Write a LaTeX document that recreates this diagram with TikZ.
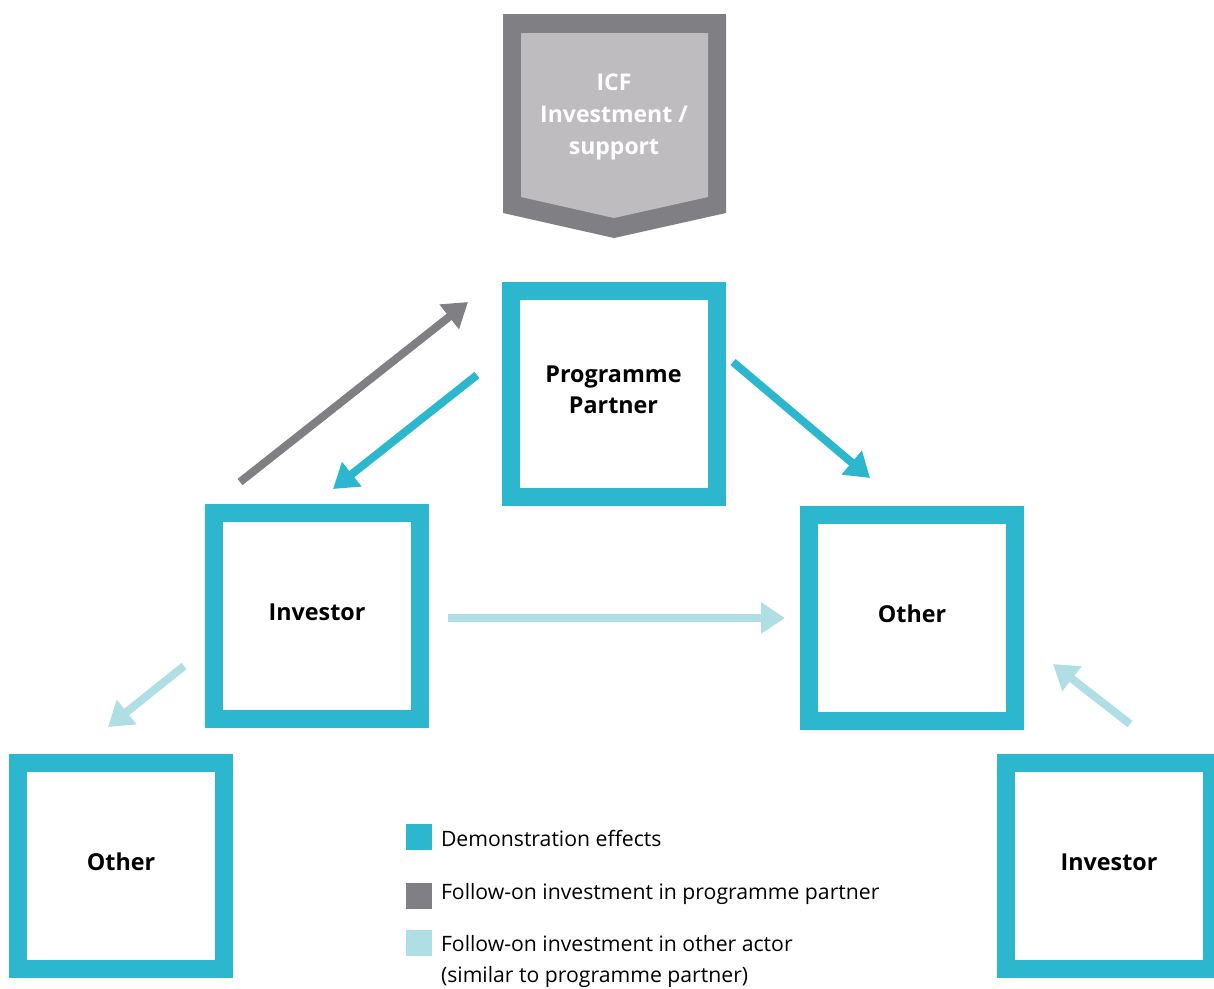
\documentclass[tikz,border=0pt]{standalone}
\usepackage{fontspec}
\setmainfont{Open Sans}
\usetikzlibrary{arrows.meta}
\definecolor{demo}{HTML}{2DB7CE}
\definecolor{pgray}{HTML}{808084}
\definecolor{other}{HTML}{B0DEE5}
\definecolor{icfin}{HTML}{BEBCBF}
\tikzset{box/.style={draw=demo, line width=18pt, minimum size=206pt,
  inner sep=0pt, align=center, text depth=8pt,
  font=\bfseries\fontsize{23.3}{31}\selectfont},
  key/.style={minimum size=26pt, inner sep=0pt},
  keytxt/.style={anchor=base west, inner sep=0pt, align=left,
  font=\fontsize{21.2}{31}\selectfont}}

\begin{document}
\begin{tikzpicture}[x=1pt, y=-1pt, line width=8pt,
  >={Triangle[width=30pt,length=24pt]}]
  \useasboundingbox (0,0) rectangle (1214,988);
  % ICF shield
  \fill[pgray] (503,14) -- (726,14) -- (726,213) -- (614,238) -- (503,213) -- cycle;
  \fill[icfin] (521,33) -- (708,33) -- (708,197) -- (614,218) -- (521,197) -- cycle;
  \node[text=white, align=center, font=\bfseries\fontsize{23}{32}\selectfont]
    (icf) at (614,117) {ICF\\Investment /\\support};
  % actors
  \node[box] (pp)   at (613.5,394) {Programme\\Partner};
  \node[box] (inv)  at (317,616)   {Investor};
  \node[box] (oth)  at (912,618)   {Other};
  \node[box] (oth2) at (121,866)   {Other};
  \node[box] (inv2) at (1109,866)  {Investor};
  % arrow ends
  \coordinate (g1) at (240,482);  \coordinate (g2) at (468,302);
  \coordinate (d1) at (477,375);  \coordinate (d2) at (333,489);
  \coordinate (d3) at (733,362);  \coordinate (d4) at (870,478);
  \coordinate (o1) at (448,618);  \coordinate (o2) at (785,618);
  \coordinate (o3) at (184,666);  \coordinate (o4) at (108,727);
  \coordinate (o5) at (1130,724); \coordinate (o6) at (1053,664);
  \draw[->, pgray] (g1) -- (g2);
  \draw[->, demo]  (d1) -- (d2);
  \draw[->, demo]  (d3) -- (d4);
  \draw[->, other] (o1) -- (o2);
  \draw[->, other] (o3) -- (o4);
  \draw[->, other] (o5) -- (o6);
  % legend
  \node[key, fill=demo]  (k1) at (419,837) {};
  \node[key, fill=pgray] (k2) at (419,896) {};
  \node[key, fill=other] (k3) at (419,943) {};
  \node[keytxt] (t1) at (437,846) {Demonstration effects};
  \node[keytxt] (t2) at (437,899) {Follow-on investment in programme partner};
  \node[keytxt] (t3) at (437,982) {Follow-on investment in other actor\\(similar to programme partner)};
\end{tikzpicture}
\end{document}
